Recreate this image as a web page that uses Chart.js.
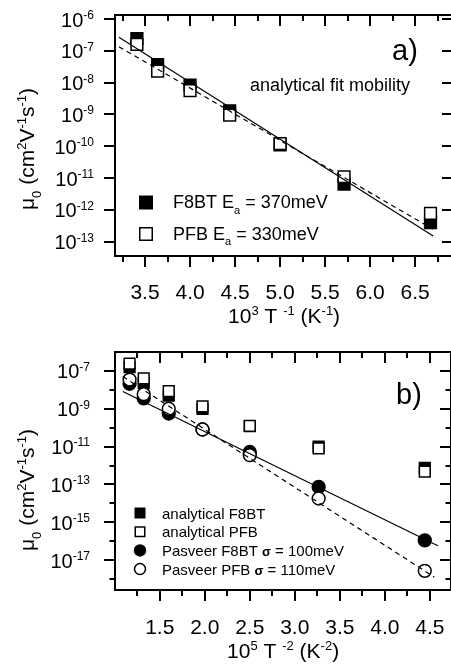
<!DOCTYPE html>
<html lang="en">
<head>
<meta charset="UTF-8">
<title>Mobility vs temperature</title>
<script src="https://cdn.jsdelivr.net/npm/chart.js"></script>
<style>
html, body { margin:0; padding:0; overflow:hidden; background:#fff; }
.panel { position:relative; width:463px; }
canvas { display:block; }
.mark { position:absolute; background:#000; }
</style>
</head>
<body>
<div class="panel"><canvas id="chartA" width="463" height="330"></canvas></div>
<div class="panel"><canvas id="chartB" width="463" height="335"></canvas></div>
<script>
const FONT = "'Liberation Sans', Arial, sans-serif";

// panel a) : mu0 vs 1000/T
const invT = [3.41, 3.64, 4.0, 4.44, 5.0, 5.71, 6.67];
const f8btA = [2.4e-7, 3.7e-8, 8.3e-9, 1.3e-9, 1.1e-10, 6.5e-12, 4.0e-13];
const pfbA = [1.6e-7, 2.3e-8, 5.6e-9, 9.5e-10, 1.2e-10, 1.1e-11, 7.8e-13];
const fitXA = [3.21, 6.70];
const fitF8btA = [2.66e-7, 1.5e-13];
const fitPfbA = [1.35e-7, 2.45e-13];
const xTicksA = [3.25, 3.5, 3.75, 4.0, 4.25, 4.5, 4.75, 5.0, 5.25, 5.5, 5.75, 6.0, 6.25, 6.5, 6.75];
const xMajorA = [3.5, 4.0, 4.5, 5.0, 5.5, 6.0, 6.5];
const yExpA = [-13, -12, -11, -10, -9, -8, -7, -6];

// panel b) : mu0 vs 1e5/T^2
const invT2 = [1.165, 1.322, 1.6, 1.975, 2.5, 3.265, 4.444];
const anF8btB = [1.6e-7, 2.3e-8, 5.0e-9, 1.0e-9, 1.2e-10, 1.0e-11, 7.6e-13];
const anPfbB = [2.4e-7, 4.0e-8, 8.5e-9, 1.35e-9, 1.26e-10, 8.0e-12, 4.7e-13];
const pasF8btB = [2.1e-8, 3.5e-9, 5.6e-10, 8.0e-11, 5.2e-12, 7.4e-14, 1.1e-16];
const pasPfbB = [3.5e-8, 5.9e-9, 1.0e-9, 8.0e-11, 3.5e-12, 1.8e-14, 2.7e-18];
const fitXB = [1.09, 4.59];
const fitF8btB = [8.1e-9, 5.8e-17];
const fitX2B = [1.09, 4.55];
const fitPfbB = [5.0e-8, 1.26e-18];
const xTicksB = [1.25, 1.5, 1.75, 2.0, 2.25, 2.5, 2.75, 3.0, 3.25, 3.5, 3.75, 4.0, 4.25, 4.5];
const xMajorB = [1.5, 2.0, 2.5, 3.0, 3.5, 4.0, 4.5];
const yExpB = [-18, -17, -16, -15, -14, -13, -12, -11, -10, -9, -8, -7];
const yMajorB = [-17, -15, -13, -11, -9, -7];

function pts(xs, ys) { return xs.map((x, i) => ({x: x, y: ys[i]})); }

// text with super/subscripts
function layoutRich(ctx, parts, size) {
  return parts.map(p => {
    const s = (p.sup || p.sub) ? Math.round(size * 0.62) : (p.size || size);
    const font = (p.bold ? 'bold ' : '') + s + 'px ' + FONT;
    ctx.font = font;
    return {t: p.t, font: font, w: ctx.measureText(p.t).width,
      dy: p.sup ? -size * 0.38 : (p.sub ? size * 0.33 : 0)};
  });
}
function drawRich(ctx, parts, x, y, size, align) {
  const items = layoutRich(ctx, parts, size);
  const total = items.reduce((s, p) => s + p.w, 0);
  let cx = align === 'right' ? x - total : (align === 'center' ? x - total / 2 : x);
  ctx.textAlign = 'left';
  ctx.textBaseline = 'alphabetic';
  ctx.fillStyle = '#000';
  items.forEach(p => { ctx.font = p.font; ctx.fillText(p.t, cx, y + p.dy); cx += p.w; });
}
function marker(ctx, style, filled, x, y, size) {
  ctx.save();
  ctx.lineWidth = 1.5;
  ctx.strokeStyle = '#000';
  ctx.fillStyle = filled ? '#000' : '#fff';
  ctx.beginPath();
  if (style === 'rect') ctx.rect(x - size / 2, y - size / 2, size, size);
  else ctx.arc(x, y, size / 2, 0, Math.PI * 2);
  ctx.fill();
  ctx.stroke();
  ctx.restore();
}

// frame and mirrored ticks, positioned from the chart's own scales
function frameRects(chart, o) {
  const a = chart.chartArea, sx = chart.scales.x, sy = chart.scales.y;
  const L = Math.round(a.left), R = Math.round(a.right), T = Math.round(a.top), B = Math.round(a.bottom);
  const r = [[L - 1, T - 1, R - L + 2, 2], [L - 1, B - 1, R - L + 2, 2],
             [L - 1, T - 1, 2, B - T + 2], [R - 1, T - 1, 2, B - T + 2]];
  o.xTicks.forEach(v => {
    const px = Math.round(sx.getPixelForValue(v));
    const len = o.xMajor.includes(v) ? 11 : 5.5;
    r.push([px - 1, B, 2, len], [px - 1, T, 2, len]);
  });
  o.yExp.forEach(e => {
    const py = Math.round(sy.getPixelForValue(Math.pow(10, e)));
    const len = o.yMajor.includes(e) ? 11 : 5.5;
    r.push([L - len, py - 1, len, 2], [R - len, py - 1, len, 2]);
  });
  return r;
}

// log labels, titles, legend, notes (one instance per chart)
function makeText(o) {
  return {
    id: 'texts',
    afterDraw(chart) {
      const ctx = chart.ctx, a = chart.chartArea, sy = chart.scales.y;
      ctx.save();
      try {
        ctx.fillStyle = '#000';
        frameRects(chart, o).forEach(q => ctx.fillRect(q[0], q[1], q[2], q[3]));

        o.yMajor.forEach(e => {
          const py = sy.getPixelForValue(Math.pow(10, e));
          drawRich(ctx, [{t: '10'}, {t: String(e), sup: true}], o.yLabelRight, py + 7.5, 20, 'right');
        });
        drawRich(ctx, o.xTitle, (a.left + a.right) / 2, o.xTitleY, 21, 'center');

        ctx.save();
        ctx.translate(o.yTitleX, o.yTitleY);
        ctx.rotate(-Math.PI / 2);
        drawRich(ctx, o.yTitle, 0, 0, 21, 'center');
        ctx.restore();

        o.legend.items.forEach(it => {
          marker(ctx, it.style, it.filled, o.legend.x, it.y - o.legend.lift, o.legend.size[it.style]);
          drawRich(ctx, it.parts, o.legend.tx, it.y, o.legend.font, 'left');
        });
        o.notes.forEach(n => drawRich(ctx, n.parts, n.x, n.y, n.size, 'left'));
      } catch (err) {
        console.error(err);
      }
      ctx.restore();
    }
  };
}

// same frame/ticks as page elements over the canvas
function overlayFrame(chart, o) {
  const host = chart.canvas.parentNode;
  frameRects(chart, o).forEach(q => {
    const d = document.createElement('div');
    d.className = 'mark';
    d.style.left = q[0] + 'px';
    d.style.top = q[1] + 'px';
    d.style.width = q[2] + 'px';
    d.style.height = q[3] + 'px';
    host.appendChild(d);
  });
}

function xScale(min, max, ticks, major, pad) {
  return {
    type: 'linear', min: min, max: max,
    afterBuildTicks: s => { s.ticks = ticks.map(v => ({value: v})); },
    afterFit: s => { s.height = pad.h; },
    grid: {display: false},
    border: {display: false},
    ticks: {
      autoSkip: false, maxRotation: 0, minRotation: 0, padding: pad.p,
      color: '#000', font: {family: FONT, size: 21},
      callback: v => major.includes(v) ? v.toFixed(1) : ''
    }
  };
}

const lineStyle = {showLine: true, pointRadius: 0, borderColor: '#000', borderWidth: 1.2, fill: false, order: 0};
function markers(data, style, filled, r, order) {
  return {data: data, showLine: false, pointStyle: style, pointRadius: r, pointHoverRadius: r,
    pointBackgroundColor: filled ? '#000' : '#fff', pointBorderColor: '#000', pointBorderWidth: 1.5, order: order};
}

const muTitle = [{t: 'μ'}, {t: '0', sub: true}, {t: ' (cm'}, {t: '2', sup: true}, {t: 'V'}, {t: '-1', sup: true}, {t: 's'}, {t: '-1', sup: true}, {t: ')'}];

const optsA = {
  xTicks: xTicksA, xMajor: xMajorA, yExp: yExpA, yMajor: yExpA, yLabelRight: 94,
  xTitle: [{t: '10'}, {t: '3', sup: true}, {t: ' T '}, {t: '-1', sup: true}, {t: ' (K'}, {t: '-1', sup: true}, {t: ')'}],
  xTitleY: 323,
  yTitle: muTitle, yTitleX: 34, yTitleY: 149,
  legend: {
    x: 146, tx: 173, lift: 5.5, font: 18, size: {rect: 12.5},
    items: [
      {style: 'rect', filled: true, y: 208, parts: [{t: 'F8BT E'}, {t: 'a', sub: true}, {t: ' = 370meV'}]},
      {style: 'rect', filled: false, y: 239.5, parts: [{t: 'PFB E'}, {t: 'a', sub: true}, {t: ' = 330meV'}]}
    ]
  },
  notes: [
    {parts: [{t: 'analytical fit mobility'}], x: 250, y: 91, size: 18},
    {parts: [{t: 'a)'}], x: 392, y: 60, size: 29}
  ]
};

const optsB = {
  xTicks: xTicksB, xMajor: xMajorB, yExp: yExpB, yMajor: yMajorB, yLabelRight: 90,
  xTitle: [{t: '10'}, {t: '5', sup: true}, {t: ' T '}, {t: '-2', sup: true}, {t: ' (K'}, {t: '-2', sup: true}, {t: ')'}],
  xTitleY: 328,
  yTitle: muTitle, yTitleX: 34, yTitleY: 160,
  legend: {
    x: 140, tx: 162, lift: 5.5, font: 15, size: {rect: 9.5, circle: 11},
    items: [
      {style: 'rect', filled: true, y: 188.5, parts: [{t: 'analytical F8BT'}]},
      {style: 'rect', filled: false, y: 207.2, parts: [{t: 'analytical PFB'}]},
      {style: 'circle', filled: true, y: 225.9, parts: [{t: 'Pasveer F8BT '}, {t: 'σ', bold: true, size: 13}, {t: ' = 100meV'}]},
      {style: 'circle', filled: false, y: 244.6, parts: [{t: 'Pasveer PFB '}, {t: 'σ', bold: true, size: 13}, {t: ' = 110meV'}]}
    ]
  },
  notes: [
    {parts: [{t: 'b)'}], x: 396, y: 74, size: 29}
  ]
};

const chartA = new Chart(document.getElementById('chartA'), {
  type: 'scatter',
  data: {
    datasets: [
      Object.assign({data: pts(fitXA, fitF8btA)}, lineStyle),
      Object.assign({data: pts(fitXA, fitPfbA), borderDash: [5, 4]}, lineStyle),
      markers(pts(invT, pfbA), 'rect', false, 8.3, 1),
      markers(pts(invT, f8btA), 'rect', true, 8.3, 2)
    ]
  },
  options: {
    responsive: false, animation: false, events: [],
    layout: {padding: {left: 115, top: 15, right: 7, bottom: 0}},
    scales: {
      x: xScale(3.1667, 6.922, xTicksA, xMajorA, {h: 74, p: 17}),
      y: {type: 'logarithmic', display: false, min: Math.pow(10, -13.45), max: Math.pow(10, -5.874)}
    },
    plugins: {legend: {display: false}, tooltip: {enabled: false}}
  },
  plugins: [makeText(optsA)]
});
overlayFrame(chartA, optsA);

const chartB = new Chart(document.getElementById('chartB'), {
  type: 'scatter',
  data: {
    datasets: [
      Object.assign({data: pts(fitXB, fitF8btB)}, lineStyle),
      Object.assign({data: pts(fitX2B, fitPfbB), borderDash: [5, 4]}, lineStyle),
      markers(pts(invT2, pasPfbB), 'circle', false, 6.4, 1),
      markers(pts(invT2, pasF8btB), 'circle', true, 6.4, 2),
      markers(pts(invT2, anPfbB), 'rect', false, 7.6, 3),
      markers(pts(invT2, anF8btB), 'rect', true, 7.6, 4)
    ]
  },
  options: {
    responsive: false, animation: false, events: [],
    layout: {padding: {left: 115, top: 22, right: 7, bottom: 0}},
    scales: {
      x: xScale(1.003, 4.738, xTicksB, xMajorB, {h: 75, p: 18}),
      y: {type: 'logarithmic', display: false, min: Math.pow(10, -18.58), max: Math.pow(10, -6.0)}
    },
    plugins: {legend: {display: false}, tooltip: {enabled: false}}
  },
  plugins: [makeText(optsB)]
});
overlayFrame(chartB, optsB);
</script>
</body>
</html>
